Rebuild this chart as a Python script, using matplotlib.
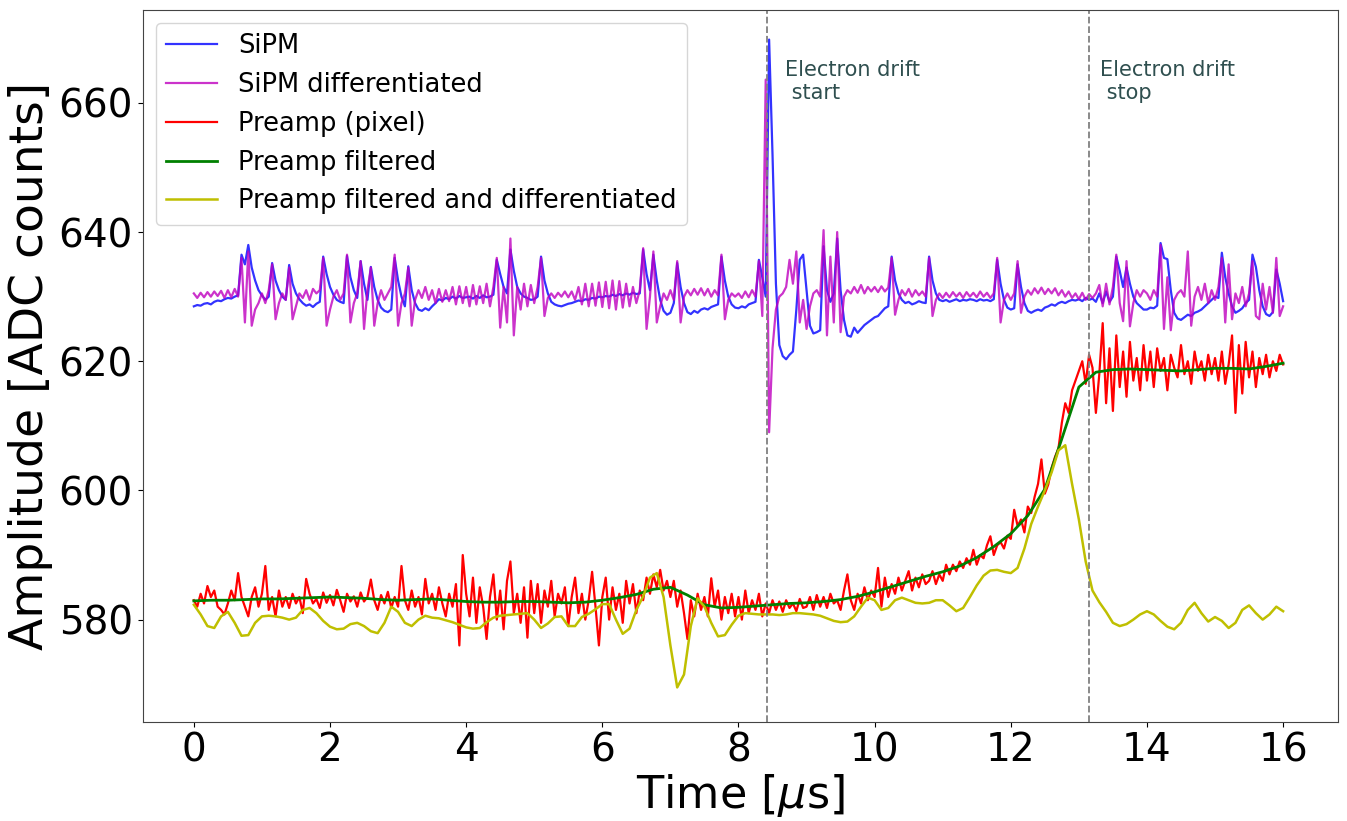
import numpy as np
import matplotlib
matplotlib.use("Agg")
from matplotlib import pyplot as plt

# SiPM trace, 0.05 us steps (one row per microsecond)
sipm = [
    628.5, 628.7, 628.6, 628.9, 629.0, 628.8, 629.2, 629.4, 629.3, 629.6, 629.8, 629.7, 630.0, 630.2, 636.5, 635.0, 638.0, 634.5, 632.5, 631.0,
    630.2, 629.5, 630.0, 635.2, 632.5, 631.0, 630.0, 629.5, 634.9, 632.0, 630.5, 629.6, 629.0, 628.6, 628.8, 628.4, 628.9, 629.2, 636.2, 633.5,
    631.5, 630.3, 629.5, 629.2, 629.0, 636.3, 633.0, 631.0, 629.8, 635.5, 632.0, 629.5, 634.6, 631.5, 629.5, 628.3, 627.8, 627.6, 628.0, 636.0,
    632.5, 630.0, 628.5, 634.7, 631.0, 629.0, 628.0, 627.8, 628.2, 627.9, 628.5, 629.0, 629.6, 629.4, 629.8, 629.6, 630.0, 629.7, 630.1, 629.8,
    629.9, 630.0, 629.7, 630.1, 629.8, 630.2, 629.9, 630.0, 630.3, 635.7, 633.5, 631.5, 630.5, 637.3, 634.0, 631.5, 630.5, 630.0, 629.8, 629.5,
    629.6, 630.0, 636.2, 632.5, 630.5, 629.2, 628.8, 628.6, 628.5, 628.7, 628.9, 629.0, 629.2, 629.4, 629.3, 629.6, 629.5, 629.8, 629.7, 630.0,
    629.9, 630.1, 630.0, 630.3, 630.1, 630.4, 630.2, 630.5, 630.3, 630.6, 630.4, 630.5, 637.3, 633.5, 631.0, 636.5, 632.5, 629.5, 627.8, 627.2,
    627.5, 629.0, 635.2, 631.5, 629.0, 627.6, 627.3, 627.8, 627.5, 628.0, 628.2, 628.0, 628.4, 628.6, 628.8, 636.2, 632.5, 630.0, 628.8, 628.3,
    628.2, 628.5, 628.3, 628.8, 629.0, 629.2, 635.7, 633.0, 630.0, 669.8, 652.0, 632.0, 622.5, 620.8, 620.3, 621.0, 621.5, 628.0, 635.7, 636.5,
    631.0, 625.5, 624.3, 624.5, 624.8, 637.8, 631.0, 629.2, 630.5, 639.0, 631.0, 626.4, 624.0, 623.8, 625.2, 624.4, 625.0, 625.6, 626.0, 626.4,
    626.8, 627.0, 627.6, 628.2, 628.5, 636.2, 632.5, 630.5, 629.5, 629.0, 629.2, 628.8, 629.0, 629.3, 629.1, 629.0, 636.2, 632.5, 630.5, 629.5,
    629.3, 629.5, 629.2, 629.4, 629.6, 629.3, 629.5, 629.4, 629.6, 629.5, 629.3, 629.6, 629.4, 629.5, 629.3, 629.6, 635.7, 632.0, 629.5, 628.3,
    628.0, 628.2, 635.0, 631.5, 629.0, 627.8, 627.5, 627.8, 628.0, 627.8, 628.3, 628.5, 628.8, 628.6, 629.0, 629.2, 629.0, 629.3, 629.5, 629.4,
    629.6, 629.3, 629.8, 629.5, 629.7, 629.2, 630.5, 629.0, 630.8, 629.2, 630.0, 636.2, 634.0, 631.5, 634.5, 632.0, 630.0, 629.0, 628.5, 628.0,
    628.0, 628.3, 628.2, 628.6, 638.3, 636.0, 635.8, 631.0, 627.5, 626.6, 626.4, 626.8, 627.2, 627.0, 627.5, 627.7, 628.0, 628.5, 629.0, 629.5,
    630.0, 629.8, 636.8, 633.0, 630.5, 628.5, 627.5, 627.8, 628.2, 629.0, 629.5, 636.5, 634.6, 631.0, 628.5, 627.3, 627.0, 627.6, 634.2, 632.0,
    629.3,
]

sipm_diff = [
    630.5, 629.8, 630.6, 629.9, 630.7, 630.0, 630.8, 630.1, 630.9, 629.8, 631.0, 629.9, 631.2, 630.0, 636.0, 626.0, 637.0, 625.5, 628.0, 629.0,
    630.5, 629.0, 631.0, 635.0, 626.5, 629.0, 630.5, 629.5, 634.5, 626.5, 628.5, 630.5, 629.8, 631.0, 629.5, 631.2, 630.5, 631.0, 636.0, 625.5,
    628.0, 630.0, 631.0, 629.5, 630.5, 636.5, 626.0, 629.0, 630.5, 635.5, 625.0, 631.0, 634.5, 625.5, 629.0, 631.0, 629.5, 630.5, 631.5, 636.5,
    625.5, 629.0, 630.5, 634.5, 625.5, 629.5, 631.0, 629.8, 631.5, 629.5, 631.0, 629.0, 631.2, 629.2, 631.0, 629.3, 631.5, 628.8, 631.6, 629.0,
    631.5, 628.5, 631.8, 628.8, 631.6, 629.0, 632.0, 628.5, 631.5, 636.0, 625.2, 631.5, 626.0, 639.0, 624.0, 631.5, 628.0, 632.0, 628.5, 631.8,
    629.0, 631.5, 636.0, 627.0, 629.8, 630.5, 629.8, 630.6, 630.0, 630.8, 629.9, 630.8, 629.5, 631.5, 628.8, 632.0, 628.5, 632.0, 628.6, 632.2,
    628.4, 632.3, 628.2, 632.5, 628.0, 632.4, 628.3, 632.0, 628.5, 631.5, 629.0, 631.0, 637.5, 625.0, 630.0, 637.0, 626.0, 628.5, 630.5, 629.5,
    631.0, 629.5, 635.5, 626.0, 630.0, 631.0, 630.2, 631.2, 630.3, 631.3, 630.2, 631.2, 630.0, 631.0, 630.2, 636.5, 626.5, 629.5, 630.5, 630.0,
    630.5, 629.8, 630.8, 629.9, 631.0, 630.0, 635.5, 627.0, 663.6, 609.0, 622.0, 628.0, 630.0, 630.5, 631.5, 635.7, 632.0, 637.0, 626.0, 629.5,
    625.0, 628.5, 630.5, 631.0, 630.0, 640.3, 624.0, 636.2, 626.0, 640.0, 624.5, 630.0, 631.0, 630.5, 631.5, 630.6, 631.8, 630.5, 631.5, 630.8,
    631.5, 630.7, 631.6, 630.8, 631.4, 636.0, 627.2, 629.5, 631.0, 630.2, 631.2, 630.0, 631.0, 630.2, 630.8, 630.0, 636.0, 627.0, 629.5, 630.5,
    629.8, 630.6, 629.9, 630.7, 630.0, 630.6, 629.8, 630.7, 630.0, 630.6, 629.9, 630.8, 630.0, 630.6, 629.8, 630.5, 636.0, 626.0, 629.5, 630.5,
    629.5, 630.5, 635.5, 627.5, 630.0, 631.0, 630.3, 631.3, 630.5, 631.4, 630.4, 631.2, 630.5, 631.3, 630.2, 631.0, 630.0, 630.8, 629.8, 630.5,
    629.6, 630.6, 629.5, 630.4, 629.8, 630.5, 631.8, 628.5, 632.0, 628.8, 631.5, 636.5, 629.0, 626.2, 635.5, 625.4, 629.0, 631.0, 630.0, 631.0,
    630.5, 629.5, 631.0, 630.0, 638.0, 625.0, 633.0, 624.8, 629.5, 630.5, 631.0, 630.0, 637.0, 625.5, 630.0, 631.5, 629.5, 632.0, 629.0, 631.0,
    629.5, 631.5, 636.0, 626.0, 635.0, 626.5, 630.5, 629.0, 631.5, 628.5, 630.5, 635.5, 627.0, 626.5, 632.0, 628.0, 631.5, 627.5, 636.0, 627.0,
    628.5,
]

preamp = [
    583.0, 582.0, 584.0, 582.5, 585.2, 583.5, 584.5, 582.0, 581.5, 580.8, 582.5, 584.5, 583.0, 587.2, 583.5, 582.0, 580.5, 583.5, 585.0, 582.0,
    584.0, 588.3, 581.5, 583.5, 580.5, 584.5, 582.0, 583.5, 581.8, 584.0, 582.5, 583.5, 581.0, 586.3, 584.0, 582.5, 583.2, 581.8, 584.2, 582.6,
    583.8, 582.2, 584.6, 583.0, 581.2, 584.0, 582.8, 583.6, 582.0, 584.2, 582.8, 583.5, 586.2, 583.0, 581.5, 583.8, 582.5, 584.3, 581.8, 583.5,
    582.0, 588.3, 583.0, 581.5, 584.5, 582.0, 583.5, 580.8, 586.3, 582.5, 584.0, 581.5, 585.0, 582.5, 580.5, 584.0, 582.0, 585.5, 576.0, 590.0,
    584.0, 580.5, 586.5, 579.5, 585.0, 582.0, 577.0, 583.5, 587.0, 580.0, 584.5, 578.5, 586.0, 589.0, 581.0, 584.0, 579.5, 585.0, 577.2, 586.0,
    581.0, 585.5, 579.5, 584.5, 582.0, 586.0, 580.5, 584.0, 582.5, 585.0, 579.0, 583.5, 586.5, 581.0, 584.0, 580.0, 583.0, 587.4, 582.0, 576.0,
    583.5, 586.5, 580.0, 585.0, 581.5, 584.0, 579.5, 586.0, 582.5, 585.5, 581.0, 584.5, 583.0, 586.5, 584.0, 587.0, 585.0, 587.7, 584.5, 586.0,
    583.5, 586.0, 582.0, 584.5, 581.0, 577.0, 583.0, 580.5, 584.0, 581.5, 583.5, 580.5, 586.4, 582.0, 584.5, 580.0, 583.5, 581.0, 584.0, 580.5,
    583.5, 580.0, 584.5, 581.0, 583.0, 581.5, 584.0, 580.5, 582.5, 581.0, 583.0, 581.5, 582.8, 581.2, 583.0, 581.8, 582.5, 581.3, 583.2, 581.8,
    582.0, 583.5, 581.5, 583.8, 582.0, 583.5, 581.8, 584.0, 582.5, 583.0, 581.5, 584.5, 587.0, 583.0, 581.5, 584.0, 582.5, 585.0, 583.0, 584.5,
    583.5, 588.0, 582.0, 586.5, 583.5, 585.5, 584.0, 586.5, 584.5, 586.0, 587.5, 584.5, 586.5, 585.0, 587.0, 585.5, 586.0, 587.5, 585.5, 587.0,
    586.0, 588.5, 587.0, 588.5, 587.5, 589.0, 588.0, 589.5, 588.5, 590.8, 588.5, 590.0, 589.5, 591.5, 592.9, 590.0, 591.5, 592.0, 591.0, 593.0,
    592.5, 597.0, 594.5, 595.5, 593.5, 597.5, 596.5, 599.0, 601.0, 604.8, 599.5, 600.9, 603.5, 605.2, 606.5, 610.5, 613.5, 612.0, 615.5, 617.0,
    618.5, 620.0, 616.5, 621.0, 619.0, 612.0, 618.0, 625.9, 613.5, 622.0, 612.3, 624.0, 616.0, 621.5, 614.5, 623.0, 617.0, 620.5, 615.5, 622.5,
    617.0, 621.5, 616.0, 622.0, 618.5, 620.5, 615.5, 621.0, 619.0, 617.5, 622.5, 618.0, 620.0, 616.5, 621.5, 618.5, 620.0, 617.0, 621.0, 618.0,
    620.5, 617.0, 621.5, 616.5, 619.5, 624.0, 612.0, 622.5, 615.0, 623.0, 617.5, 621.5, 616.0, 620.5, 618.0, 621.0, 617.5, 620.0, 618.5, 621.0,
    619.5,
]

# filtered preamp, 0.25 us steps
preamp_filt = [
    582.9, 583.0, 583.0, 583.1, 583.2, 583.2, 583.3, 583.4,
    583.5, 583.4, 583.3, 583.1, 583.0, 583.1, 583.2, 583.0,
    582.8, 582.7, 582.7, 582.8, 582.8, 582.7, 582.6, 582.7,
    583.0, 583.4, 583.9, 584.7, 585.0, 583.8, 582.3, 581.8,
    581.9, 582.1, 582.3, 582.5, 582.6, 582.8, 583.1, 583.6,
    584.3, 585.1, 585.9, 586.7, 587.4, 588.3, 589.6, 591.3,
    593.3, 596.1, 600.2, 608.0, 616.0, 618.3, 618.7, 618.8,
    618.7, 618.6, 618.5, 618.7, 618.9, 618.9, 618.8, 619.2,
    619.7,
]

# filtered + differentiated preamp, 0.1 us steps
preamp_diff = [
    582.3, 580.8, 579.0, 578.7, 580.5, 581.2, 579.5, 577.5, 577.6, 579.5,
    580.5, 580.6, 580.5, 580.3, 580.0, 580.3, 581.5, 581.8, 581.0, 579.8,
    578.9, 578.5, 578.6, 579.3, 579.5, 579.0, 578.2, 577.9, 579.5, 582.0,
    581.2, 579.5, 579.0, 580.0, 580.6, 580.3, 580.2, 579.9, 579.6, 579.2,
    578.8, 578.6, 578.7, 579.6, 580.3, 580.6, 580.7, 580.8, 580.9, 581.0,
    580.0, 578.7, 579.4, 580.4, 580.5, 579.0, 579.0, 580.4, 580.9, 581.6,
    582.4, 582.4, 580.0, 577.8, 578.6, 581.5, 583.6, 586.5, 587.2, 583.5,
    576.0, 569.5, 571.5, 579.0, 583.3, 582.0, 579.5, 577.4, 577.6, 579.2,
    580.6, 581.0, 580.9, 580.8, 580.8, 580.8, 580.7, 580.8, 581.0, 581.0,
    580.9, 580.8, 580.6, 580.2, 579.8, 579.6, 579.7, 580.5, 582.0, 583.4,
    583.0, 581.5, 581.8, 583.0, 583.4, 583.0, 582.6, 582.5, 582.6, 583.0,
    583.0, 582.2, 581.3, 581.8, 583.5, 585.3, 586.8, 587.6, 587.7, 587.4,
    587.2, 588.0, 591.0, 594.8, 597.5, 600.0, 602.8, 606.2, 607.0, 601.0,
    595.5, 589.0, 584.5, 582.7, 581.2, 579.5, 579.0, 579.3, 580.0, 580.8,
    581.3, 580.8, 579.8, 578.9, 578.5, 579.5, 581.5, 582.6, 581.0, 579.7,
    580.4, 579.8, 578.7, 579.5, 581.5, 582.2, 581.0, 580.0, 580.8, 582.0,
    581.3,
]

t_start = 8.42
t_stop = 13.15

t_fast = np.arange(len(sipm)) * 0.05
t_filt = np.arange(len(preamp_filt)) * 0.25
t_diff = np.arange(len(preamp_diff)) * 0.1

fig, ax = plt.subplots(figsize=(13.47, 8.21), dpi=100)
fig.subplots_adjust(left=0.106, right=0.993, top=0.988, bottom=0.121)

ax.plot(t_fast, sipm, color='b', alpha=0.8, lw=1.6, label='SiPM')
ax.plot(t_fast, sipm_diff, color='m', alpha=0.8, lw=1.6, label='SiPM differentiated')
ax.plot(t_fast, preamp, color='r', lw=1.6, label='Preamp (pixel)')
ax.plot(t_filt, preamp_filt, color='g', lw=2, label='Preamp filtered')
ax.plot(t_diff, preamp_diff, color='y', lw=1.8, label='Preamp filtered and differentiated')

ax.axvline(t_start, color='gray', ls='--', lw=1.3)
ax.axvline(t_stop, color='gray', ls='--', lw=1.3)
ax.text(t_start + 0.26, 666.6, 'Electron drift\n start', va='top', ha='left',
        fontsize=15, color='darkslategray')
ax.text(t_stop + 0.16, 666.6, 'Electron drift\n stop', va='top', ha='left',
        fontsize=15, color='darkslategray')

ax.set_xlim(-0.75, 16.8)
ax.set_ylim(564.2, 674.4)
ax.set_xticks(range(0, 17, 2))
ax.set_yticks(range(580, 661, 20))
ax.tick_params(labelsize=28)
ax.set_xlabel(r'Time [$\mu$s]', fontsize=32, labelpad=2)
ax.set_ylabel('Amplitude [ADC counts]', fontsize=34)
for s in ax.spines.values():
    s.set_color('#444444')

ax.legend(loc='upper left', fontsize=18.5)

fig.savefig('out.png', dpi=100)
